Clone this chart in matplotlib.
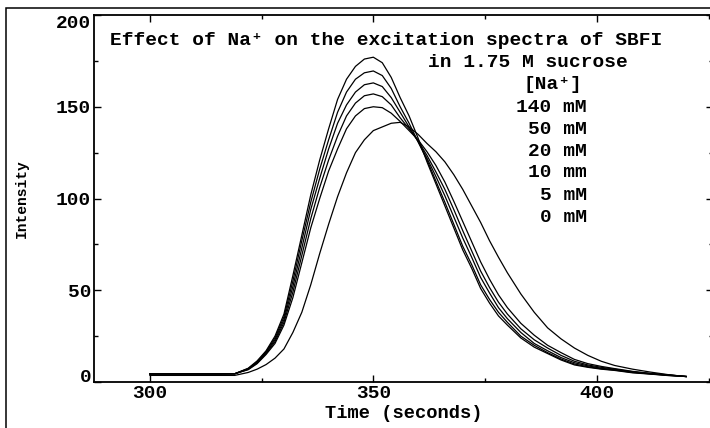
"""Excitation spectra of SBFI in 1.75 M sucrose at several Na+ levels.

Writes out.png (710x428 px).
"""
import matplotlib
matplotlib.use("Agg")
import matplotlib.pyplot as plt
from matplotlib import rcParams
from matplotlib.patches import Rectangle
from matplotlib.ticker import MultipleLocator

rcParams.update({
    "font.family": ["Liberation Mono", "DejaVu Sans Mono"],
    "font.weight": "bold",
    "axes.labelweight": "bold",
    "font.size": 14,
    "axes.linewidth": 1.3,
    "xtick.direction": "in",
    "ytick.direction": "in",
    "xtick.major.size": 5,
    "xtick.minor.size": 3,
    "ytick.major.size": 5,
    "ytick.minor.size": 3,
    "xtick.major.width": 1.0,
    "xtick.minor.width": 1.0,
    "ytick.major.width": 1.0,
    "ytick.minor.width": 1.0,
    "xtick.major.pad": 2,
    "ytick.major.pad": 2,
    "figure.dpi": 100,
})

W, H = 710, 428

# time axis (seconds), shared by all six spectra
TIME = [300, 305, 310, 315, 319, 322, 324, 326, 328, 330, 332, 334, 336, 338,
        340, 342, 344, 346, 348, 350, 352, 354, 356, 358, 360, 362, 364, 366,
        368, 370, 372, 374, 376, 378, 380, 383, 386, 389, 392, 395, 398, 401,
        404, 408, 412, 416, 420]

NA_140 = [4.4, 4.4, 4.4, 4.4, 4.5, 7.5, 11.5, 17, 25, 37, 58, 80, 102, 121,
          138, 154, 165, 172, 176, 177, 174, 166, 155, 145, 133, 120, 108, 96,
          84, 72, 62, 51, 43, 36, 31, 24, 19, 15.5, 12, 9.3, 8, 7,
          6.3, 5, 4.3, 3.5, 3]
NA_50 = [4.4, 4.4, 4.4, 4.4, 4.5, 7.3, 11, 16.5, 24, 35.5, 55, 77, 98, 116,
         132, 147, 158, 165, 168.5, 169.5, 167, 160, 150, 141, 131, 121, 109.5, 98,
         86, 74, 64, 53, 45, 38, 32.5, 25, 20, 16, 12.5, 9.8, 8.3, 7.2,
         6.5, 5.2, 4.4, 3.6, 3]
NA_20 = [4.4, 4.4, 4.4, 4.4, 4.5, 7.1, 10.7, 16, 23, 34, 52, 73, 94, 111,
         127, 141, 151, 158, 162, 163, 161, 155, 147, 139, 131, 122, 112, 101.5,
         90, 78.5, 68, 57, 48.5, 40.5, 34.5, 27, 21, 17, 13.3, 10.5, 8.8, 7.5,
         6.7, 5.4, 4.5, 3.7, 3]
NA_10 = [4.4, 4.4, 4.4, 4.4, 4.5, 6.9, 10.3, 15.5, 22, 32.5, 49, 69, 89, 106,
         121, 134, 145, 152, 156, 157, 155.5, 151, 144, 138, 131.5, 123.5, 114.5, 105,
         94, 82.5, 71.5, 60.5, 51.5, 43.5, 37, 29, 23, 18.5, 14.5, 11.3, 9.3, 8,
         7, 5.6, 4.6, 3.8, 3]
NA_5 = [4.4, 4.4, 4.4, 4.4, 4.5, 6.7, 10, 15, 21, 31, 46, 65, 84, 100,
        115, 127, 138, 145, 149, 150, 149.5, 146.5, 142, 137, 132, 125.5, 118, 109,
        98.5, 87.5, 76.5, 65.5, 56, 47.5, 40.5, 32, 25.5, 20, 16, 12.3, 10, 8.5,
        7.3, 5.8, 4.7, 3.9, 3]
NA_0 = [3.6, 3.6, 3.6, 3.6, 3.6, 5.2, 7, 9.5, 13, 18, 27, 38, 53, 70,
        86, 101, 114, 125, 132, 137, 139, 141, 141.5, 139, 135, 130, 125.5, 120,
        113, 105, 96, 87, 77, 68, 59.5, 48, 38, 29.5, 23.5, 18.5, 14.5, 11.3,
        9, 7, 5.4, 4, 2.9]

SPECTRA = [NA_140, NA_50, NA_20, NA_10, NA_5, NA_0]
CONC_LABELS = ["140 mM", "50 mM", "20 mM", "10 mm", "5 mM", "0 mM"]


def fx(px):
    return px / W


def fy(py):
    return 1 - py / H


def main():
    fig = plt.figure(figsize=(W / 100, H / 100), dpi=100)
    fig.patch.set_facecolor("white")

    # outer frame of the original plot window, runs off the right/bottom edge
    fig.add_artist(Rectangle((fx(6), -0.1), 1.2, fy(8) + 0.1,
                             transform=fig.transFigure, fill=False,
                             lw=1.1, ec="black", clip_on=False))

    ax = fig.add_axes([fx(94), fy(382), (713 - 94) / W, (382 - 15) / H])
    for y in SPECTRA:
        ax.plot(TIME, y, color="black", lw=0.9)

    ax.set_xlim(287.5, 426.0)
    ax.set_ylim(0, 200)
    ax.set_xticks([300, 350, 400])
    ax.set_yticks([0, 50, 100, 150, 200])
    ax.xaxis.set_minor_locator(MultipleLocator(25))
    ax.yaxis.set_minor_locator(MultipleLocator(25))
    ax.tick_params(which="both", top=True, right=True)

    # end labels nudged inside so they stay clear of the window frame
    ylabels = ax.yaxis.get_majorticklabels()
    ylabels[-1].set_va("top")
    ylabels[0].set_va("baseline")

    ax.set_xlabel("Time (seconds)", fontsize=13.5)
    ax.xaxis.set_label_coords(0.5, -0.062)
    ax.set_ylabel("Intensity", fontsize=10.5)
    ax.yaxis.set_label_coords(-0.106, 0.5)

    fig.text(fx(110), fy(45), "Effect of Na\u207a on the excitation spectra of SBFI",
             ha="left", va="baseline")
    fig.text(fx(628), fy(67), "in 1.75 M sucrose", ha="right", va="baseline")
    fig.text(fx(582), fy(89), "[Na\u207a]", ha="right", va="baseline")
    for i, lab in enumerate(CONC_LABELS):
        fig.text(fx(587), fy(111.5 + 22 * i), lab, ha="right", va="baseline")

    fig.savefig("out.png", dpi=100)
    plt.close(fig)


if __name__ == "__main__":
    main()
